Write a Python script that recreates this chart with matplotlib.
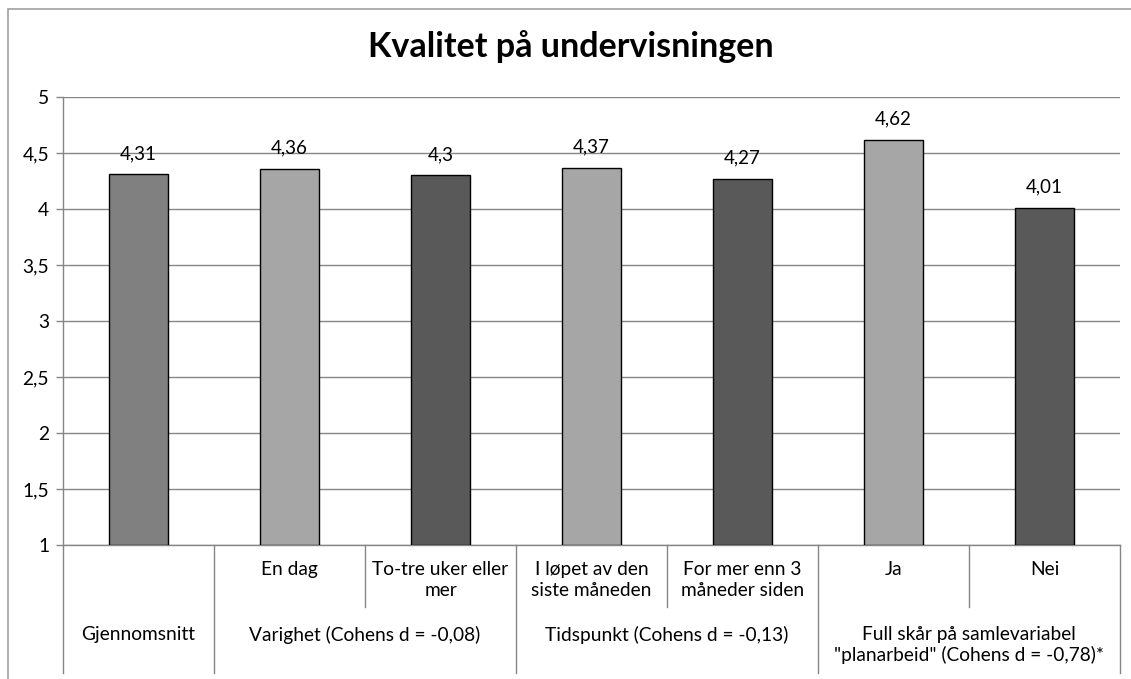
import matplotlib.pyplot as plt
from matplotlib.lines import Line2D
from matplotlib.patches import Rectangle

plt.rcParams['font.family'] = ['Lato', 'DejaVu Sans']

# Data
values = [4.31, 4.36, 4.3, 4.37, 4.27, 4.62, 4.01]
value_labels = ['4,31', '4,36', '4,3', '4,37', '4,27', '4,62', '4,01']
sub_labels = ['', 'En dag', 'To-tre uker eller\nmer', 'I løpet av den\nsiste måneden',
              'For mer enn 3\nmåneder siden', 'Ja', 'Nei']
group_labels = ['Gjennomsnitt', 'Varighet (Cohens d = -0,08)', 'Tidspunkt (Cohens d = -0,13)',
                'Full skår på samlevariabel\n"planarbeid" (Cohens d = -0,78)*']
group_pos = [0, 1.5, 3.5, 5.5]
yticks = [1, 1.5, 2, 2.5, 3, 3.5, 4, 4.5, 5]
ytick_labels = ['1', '1,5', '2', '2,5', '3', '3,5', '4', '4,5', '5']

mid, light, dark = '#808080', '#A6A6A6', '#595959'
colors = [mid, light, dark, light, dark, light, dark]

W, H = 1131, 679
fs = 13.8
fig = plt.figure(figsize=(W / 100, H / 100), dpi=100)
ax = fig.add_axes([63 / W, 1 - 545 / H, (1120 - 63) / W, (545 - 97) / H])

x = range(len(values))
bars = ax.bar(x, [v - 1 for v in values], bottom=1, width=0.39, color=colors,
              edgecolor='black', linewidth=1, zorder=3)
for b, lab in zip(bars, value_labels):
    ax.annotate(lab, (b.get_x() + b.get_width() / 2, b.get_y() + b.get_height()),
                xytext=(0, 15), textcoords='offset points', ha='center', va='center',
                fontsize=13.5)

ax.set_xlim(-0.5, 6.5)
ax.set_ylim(1, 5)
ax.set_yticks(yticks)
ax.set_yticklabels(ytick_labels, fontsize=fs)
ax.set_xticks([])
ax.grid(axis='y', color='#868686', linewidth=1, zorder=0)
ax.tick_params(axis='y', length=5, color='#868686', width=1, pad=5)
for s in ['top', 'right']:
    ax.spines[s].set_visible(False)
for s in ['left', 'bottom']:
    ax.spines[s].set_color('#868686')
    ax.spines[s].set_linewidth(1)

# multi-level category axis
tr = ax.get_xaxis_transform()
ah = 545 - 97
def yfrac(py):
    return (545 - py) / ah

for xs in [-0.5, 0.5, 2.5, 4.5, 6.5]:
    ax.add_line(Line2D([xs, xs], [0, yfrac(673)], transform=tr, color='#868686',
                       linewidth=1, clip_on=False))
for xs in [1.5, 3.5, 5.5]:
    ax.add_line(Line2D([xs, xs], [0, yfrac(607)], transform=tr, color='#868686',
                       linewidth=1, clip_on=False))
for i, lab in enumerate(sub_labels):
    if lab:
        ax.text(i, yfrac(561), lab, transform=tr, ha='center', va='top',
                fontsize=fs, linespacing=1.25)
for gx, lab in zip(group_pos, group_labels):
    ax.text(gx, yfrac(626), lab, transform=tr, ha='center', va='top',
            fontsize=fs, linespacing=1.2)

fig.suptitle('Kvalitet på undervisningen', x=571 / W, y=1 - 47 / H, va='center',
             fontsize=24.5, fontweight='bold')

# chart area border
fig.patches.append(Rectangle((7.5 / W, -0.1), 1.2, 1 - 9.5 / H + 0.1, transform=fig.transFigure,
                             fill=False, edgecolor='#A0A0A0', linewidth=1.2))

fig.savefig('out.png', dpi=100)
plt.close()
